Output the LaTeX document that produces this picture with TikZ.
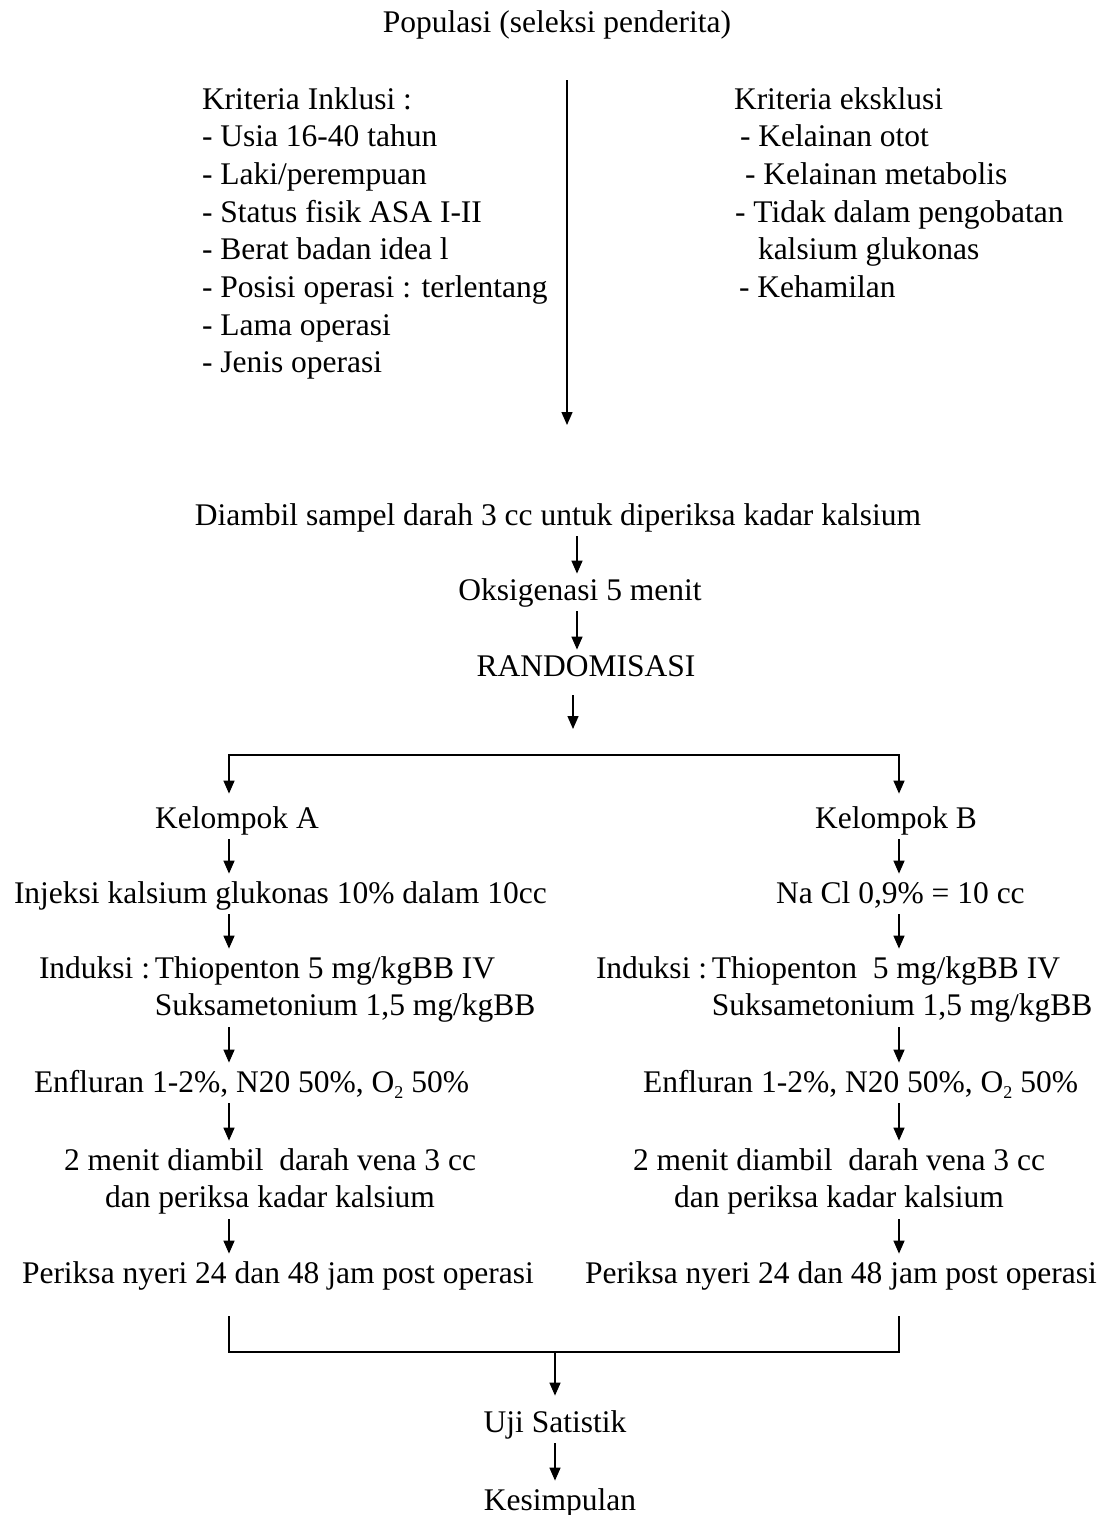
\documentclass[tikz,border=0pt]{standalone}
\usepackage{fontspec}
\setmainfont{Liberation Serif}
\usetikzlibrary{arrows.meta}
\newcommand{\subtwo}{\raisebox{-0.2em}{\fontsize{18}{18}\selectfont 2}}
\begin{document}
\begin{tikzpicture}[x=1pt,y=-1pt,
  txt/.style={inner sep=0pt,outer sep=0pt,font=\fontsize{31.5}{37.7}\selectfont},
  one/.style={txt,text height=26.4pt,text depth=11.3pt},
  ln/.style={line width=1.4pt},
  arr/.style={ln,-{Triangle[length=13pt,width=11pt]},shorten <=0pt,shorten >=3pt},
  arrtwo/.style={ln,{Triangle[length=13pt,width=11pt]}-{Triangle[length=13pt,width=11pt]},shorten <=8pt,shorten >=8pt}]
\useasboundingbox (0,0) rectangle (1106,1515);

% top
\node[one,anchor=base] (pop) at (557,32) {Populasi (seleksi penderita)};
\node[txt,anchor=base west] (ink) at (202,109) {\begin{tabular}[t]{@{}l@{}}
Kriteria Inklusi :\\
- Usia 16-40 tahun\\
- Laki/perempuan\\
- Status fisik ASA I-II\\
- Berat badan idea l\\
- Posisi operasi : terlentang\\
- Lama operasi\\
- Jenis operasi
\end{tabular}};
\node[txt,anchor=base west] (eks) at (734,109) {\begin{tabular}[t]{@{}l@{}}
Kriteria eksklusi\\
\hspace{6pt}- Kelainan otot\\
\hspace{11pt}- Kelainan metabolis\\
\hspace{1pt}- Tidak dalam pengobatan\\
\hspace{24pt}kalsium glukonas\\
\hspace{5pt}- Kehamilan
\end{tabular}};
\coordinate (vtop) at (567,80);
\coordinate (vbot) at (567,425);
\draw[arr,shorten >=0pt] (vtop) -- (vbot);

% middle
\node[one,anchor=base] (dia) at (558,525) {Diambil sampel darah 3 cc untuk diperiksa kadar kalsium};
\node[one,anchor=base] (oks) at (580,600) {Oksigenasi 5 menit};
\node[one,anchor=base] (ran) at (586,676) {RANDOMISASI};
\coordinate (cm) at (577,0);
\draw[arr,shorten >=0pt] (dia.south -| cm) -- (oks.north -| cm);
\draw[arr,shorten >=0pt] (oks.south -| cm) -- (ran.north -| cm);
\coordinate (sl) at (229,755);
\coordinate (sr) at (899,755);
\coordinate (sm) at (573,755);
\draw[arr,shorten <=8pt,shorten >=26pt] (ran.south -| sm) -- (sm);

% groups
\node[one,anchor=base] (ka) at (237,828) {Kelompok A};
\node[one,anchor=base] (kb) at (896,828) {Kelompok B};
\draw[arrtwo] (ka.north -| sl) -- (sl) -- (sr) -- (kb.north -| sr);

\node[one,anchor=base west] (inja) at (14,903) {Injeksi kalsium glukonas 10\% dalam 10cc};
\node[one,anchor=base west] (injb) at (776,903) {Na Cl 0,9\% = 10 cc};

\node[txt,anchor=base west] (inda) at (39,978) {\begin{tabular}[t]{@{}l@{\hspace{0.15em}}l@{}}
Induksi : & Thiopenton 5 mg/kgBB IV\\
 & Suksametonium 1,5 mg/kgBB
\end{tabular}};
\node[txt,anchor=base west] (indb) at (596,978) {\begin{tabular}[t]{@{}l@{\hspace{0.15em}}l@{}}
Induksi : & Thiopenton\ \ 5 mg/kgBB IV\\
 & Suksametonium 1,5 mg/kgBB
\end{tabular}};

\node[one,anchor=base west] (enfa) at (34,1092) {Enfluran 1-2\%, N20 50\%, O\subtwo{} 50\%};
\node[one,anchor=base west] (enfb) at (643,1092) {Enfluran 1-2\%, N20 50\%, O\subtwo{} 50\%};

\node[txt,anchor=base] (mena) at (270,1170) {\begin{tabular}[t]{@{}c@{}}
2 menit diambil\ \ darah vena 3 cc\\
dan periksa kadar kalsium
\end{tabular}};
\node[txt,anchor=base] (menb) at (839,1170) {\begin{tabular}[t]{@{}c@{}}
2 menit diambil\ \ darah vena 3 cc\\
dan periksa kadar kalsium
\end{tabular}};

\node[one,anchor=base west] (pera) at (22,1283) {Periksa nyeri 24 dan 48 jam post operasi};
\node[one,anchor=base west] (perb) at (585,1283) {Periksa nyeri 24 dan 48 jam post operasi};

\coordinate (ca) at (229,0);
\coordinate (cb) at (899,0);
\draw[arr] (ka.south -| ca) -- (inja.north -| ca);
\draw[arr] (inja.south -| ca) -- (inda.north -| ca);
\draw[arr] (inda.south -| ca) -- (enfa.north -| ca);
\draw[arr] (enfa.south -| ca) -- (mena.north -| ca);
\draw[arr] (mena.south -| ca) -- (pera.north -| ca);
\draw[arr] (kb.south -| cb) -- (injb.north -| cb);
\draw[arr] (injb.south -| cb) -- (indb.north -| cb);
\draw[arr] (indb.south -| cb) -- (enfb.north -| cb);
\draw[arr] (enfb.south -| cb) -- (menb.north -| cb);
\draw[arr] (menb.south -| cb) -- (perb.north -| cb);

% bottom
\coordinate (bl) at (229,1352);
\coordinate (br) at (899,1352);
\coordinate (bm) at (555,1352);
\draw[ln,shorten <=22pt,shorten >=22pt] (pera.south -| bl) -- (bl) -- (br) -- (perb.south -| br);
\node[one,anchor=base] (uji) at (555,1432) {Uji Satistik};
\node[one,anchor=base] (kes) at (560,1510) {Kesimpulan};
\draw[arr,shorten >=10pt] (bm) -- (uji.north -| bm);
\draw[arr] (uji.south -| bm) -- (kes.north -| bm);
\end{tikzpicture}
\end{document}
